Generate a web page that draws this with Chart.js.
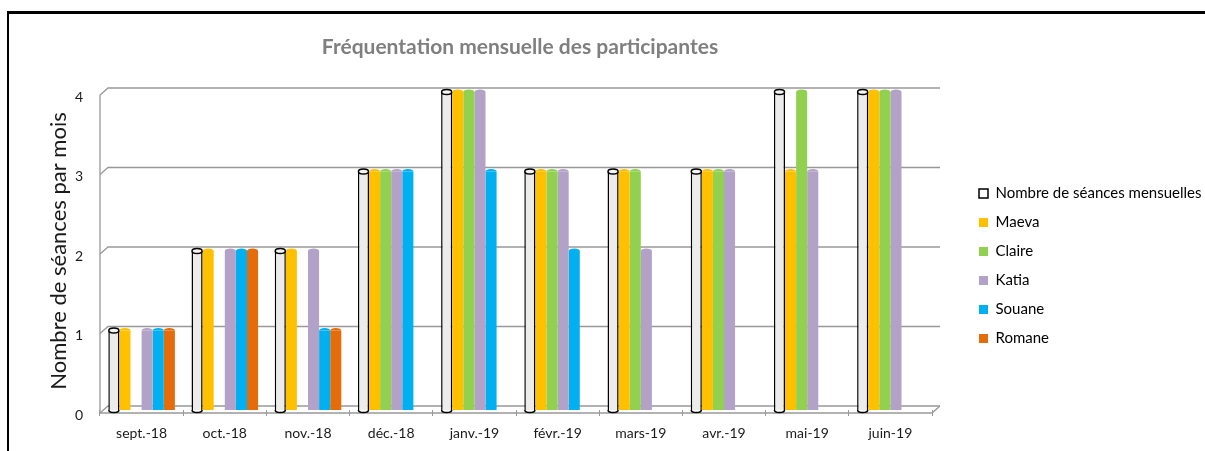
<!DOCTYPE html>
<html>
<head>
<meta charset="utf-8">
<title>Fréquentation mensuelle des participantes</title>
<script src="https://cdn.jsdelivr.net/npm/chart.js@4/dist/chart.umd.min.js"></script>
<style>
  html, body { margin: 0; padding: 0; background: #fff; }
  #wrap { position: relative; width: 1205px; height: 451px; overflow: hidden; }
  #frame { position: absolute; left: 7px; top: 11px; right: -10px; bottom: -10px;
           border-top: 3px solid #000; border-left: 2px solid #000; pointer-events: none; }
  canvas { position: absolute; left: 0; top: 0; }
</style>
</head>
<body>
<div id="wrap">
  <canvas id="chart" width="1205" height="451"></canvas>
  <div id="frame"></div>
</div>
<script>
// data
var chartTitle = "Fréquentation mensuelle des participantes";
var months = ["sept.-18", "oct.-18", "nov.-18", "déc.-18", "janv.-19", "févr.-19", "mars-19", "avr.-19", "mai-19", "juin-19"];
var seances = [1, 2, 2, 3, 4, 3, 3, 3, 4, 4];
var maeva   = [1, 2, 2, 3, 4, 3, 3, 3, 3, 4];
var claire  = [0, 0, 0, 3, 4, 3, 3, 3, 4, 4];
var katia   = [1, 2, 2, 3, 4, 3, 2, 3, 3, 4];
var souane  = [1, 2, 1, 3, 3, 2, 0, 0, 0, 0];
var romane  = [1, 2, 1, 0, 0, 0, 0, 0, 0, 0];
var yTicks  = [0, 1, 2, 3, 4];

var FONT = "Lato, 'Open Sans', sans-serif";

// fake 3D: slanted gridlines, floor, cylinder caps, and the title over the plot
var depthPlugin = {
  id: "depth",
  beforeDatasetsDraw: function (chart) {
    var ctx = chart.ctx, area = chart.chartArea, y = chart.scales.y;
    var dx = 8, up = 4, down = 3;
    ctx.save();
    ctx.strokeStyle = "#999999";
    ctx.lineWidth = 1.3;
    yTicks.forEach(function (v) {
      var py = y.getPixelForValue(v);
      ctx.beginPath();
      ctx.moveTo(area.left, py + down);
      ctx.lineTo(area.left + dx, py - up);
      ctx.lineTo(area.right + dx, py - up);
      ctx.stroke();
    });
    var y0 = y.getPixelForValue(0), y4 = y.getPixelForValue(4);
    ctx.beginPath();
    ctx.moveTo(area.left, y4 + down);
    ctx.lineTo(area.left, y0 + down);
    ctx.lineTo(area.right, y0 + down);
    ctx.lineTo(area.right + dx, y0 - up);
    ctx.stroke();

    ctx.fillStyle = "#7f7f7f";
    ctx.font = "bold 21px " + FONT;
    ctx.textAlign = "center";
    ctx.textBaseline = "middle";
    ctx.fillText(chartTitle, (area.left + area.right) / 2 + 4, 47);
    ctx.restore();
  },
  afterDatasetsDraw: function (chart) {
    var ctx = chart.ctx;
    ctx.save();
    chart.data.datasets.forEach(function (ds, di) {
      var meta = chart.getDatasetMeta(di);
      meta.data.forEach(function (bar, i) {
        if (!ds.data[i]) return;
        var p = bar.getProps(["x", "y", "base", "width"], true);
        var rx = p.width / 2, ry = 2.5;
        if (di === 0) {
          ctx.lineWidth = 1.5;
          ctx.strokeStyle = "#000";
          ctx.beginPath();
          ctx.ellipse(p.x, p.base, rx - 0.5, ry, 0, 0, Math.PI);
          ctx.stroke();
          ctx.beginPath();
          ctx.ellipse(p.x, p.y, rx - 0.5, ry, 0, 0, Math.PI * 2);
          ctx.fillStyle = "#f4f4f4";
          ctx.fill();
          ctx.stroke();
        } else {
          ctx.beginPath();
          ctx.ellipse(p.x, p.y, rx, ry, 0, Math.PI, Math.PI * 2);
          ctx.fillStyle = ds.backgroundColor;
          ctx.fill();
        }
      });
    });
    ctx.restore();
  }
};

var colors = ["#ececec", "#ffc000", "#92d050", "#b3a2c7", "#00b0f0", "#e46c0a"];

new Chart(document.getElementById("chart"), {
  type: "bar",
  data: {
    labels: months,
    datasets: [
      { label: "Nombre de séances mensuelles", data: seances, backgroundColor: colors[0],
        borderColor: "#000", borderWidth: { left: 1.5, right: 1.5, top: 0, bottom: 0 } },
      { label: "Maeva", data: maeva, backgroundColor: colors[1] },
      { label: "Claire", data: claire, backgroundColor: colors[2] },
      { label: "Katia", data: katia, backgroundColor: colors[3] },
      { label: "Souane", data: souane, backgroundColor: colors[4] },
      { label: "Romane", data: romane, backgroundColor: colors[5] }
    ]
  },
  options: {
    responsive: false,
    animation: false,
    devicePixelRatio: 1,
    datasets: { bar: { categoryPercentage: 0.8, barPercentage: 1 } },
    layout: { padding: { left: 10, top: 92, right: 0, bottom: 11 } },
    plugins: {
      title: { display: false },
      legend: {
        position: "right",
        maxWidth: 240,
        labels: {
          color: "#1a1a1a",
          font: { family: FONT, size: 15 },
          boxWidth: 9,
          boxHeight: 9,
          padding: 14,
          generateLabels: function (chart) {
            return chart.data.datasets.map(function (ds, i) {
              return {
                text: ds.label,
                fillStyle: i === 0 ? "#fff" : ds.backgroundColor,
                strokeStyle: i === 0 ? "#000" : ds.backgroundColor,
                lineWidth: i === 0 ? 1.5 : 0,
                datasetIndex: i,
                hidden: false
              };
            });
          }
        }
      },
      tooltip: { enabled: false }
    },
    scales: {
      x: {
        afterFit: function (s) { s.height = 30; },
        grid: { display: true, drawOnChartArea: false, tickLength: 6, color: "#999999" },
        border: { display: false },
        ticks: { color: "#1a1a1a", font: { family: FONT, size: 14 }, padding: 9 }
      },
      y: {
        min: 0,
        max: 4,
        afterFit: function (s) { s.width = 90; },
        grid: { display: false },
        border: { display: false },
        ticks: { stepSize: 1, padding: 9, labelOffset: 5, color: "#1a1a1a", font: { family: FONT, size: 14 } },
        title: {
          display: true,
          text: "Nombre de séances par mois",
          color: "#1a1a1a",
          font: { family: FONT, size: 22 },
          padding: { top: 36 }
        }
      },
      gap: {
        type: "linear",
        position: "right",
        afterFit: function (s) { s.width = 33; },
        grid: { display: false },
        border: { display: false },
        ticks: { display: false }
      }
    }
  },
  plugins: [depthPlugin]
});
</script>
</body>
</html>
